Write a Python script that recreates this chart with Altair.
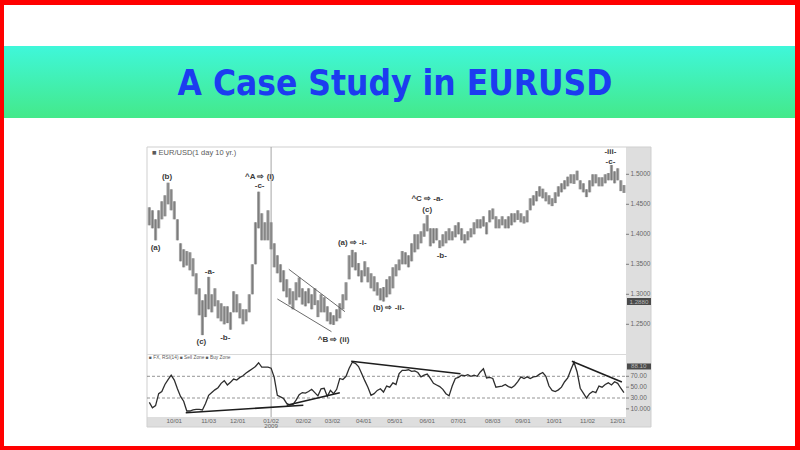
import altair as alt
import pandas as pd

# ---------------------------------------------------------------------------
# EUR/USD daily chart, Sep 2008 - Dec 2009, shown as 3-day high/low bars,
# with a 14-period RSI panel underneath and Elliott-wave annotations.
# ---------------------------------------------------------------------------
ORIGIN = pd.Timestamp("2008-10-01")
BAR_START = "2008-09-07"

HIGH = [1.445, 1.44, 1.425, 1.44, 1.455, 1.465, 1.486, 1.475, 1.455, 1.425,
        1.385, 1.375, 1.372, 1.37, 1.36, 1.335, 1.31, 1.29, 1.30, 1.329,
        1.30, 1.31, 1.29, 1.285, 1.28, 1.28, 1.27, 1.305, 1.30, 1.285,
        1.275, 1.275, 1.30, 1.35, 1.42, 1.471, 1.435, 1.42, 1.44, 1.42,
        1.385, 1.365, 1.35, 1.34, 1.325, 1.31, 1.305, 1.32, 1.328, 1.31,
        1.305, 1.31, 1.30, 1.31, 1.29, 1.30, 1.295, 1.28, 1.27, 1.265,
        1.275, 1.285, 1.30, 1.32, 1.365, 1.374, 1.37, 1.352, 1.34, 1.355,
        1.345, 1.335, 1.33, 1.32, 1.31, 1.312, 1.325, 1.33, 1.345, 1.35,
        1.358, 1.372, 1.37, 1.365, 1.385, 1.40, 1.40, 1.405, 1.418, 1.432,
        1.41, 1.41, 1.41, 1.39, 1.40, 1.405, 1.41, 1.405, 1.415, 1.42,
        1.41, 1.40, 1.405, 1.41, 1.42, 1.425, 1.425, 1.43, 1.42, 1.44,
        1.443, 1.43, 1.425, 1.43, 1.425, 1.43, 1.435, 1.435, 1.44, 1.435,
        1.43, 1.44, 1.46, 1.465, 1.472, 1.48, 1.476, 1.47, 1.465, 1.46,
        1.47, 1.48, 1.485, 1.49, 1.496, 1.50, 1.50, 1.506, 1.49, 1.485,
        1.475, 1.49, 1.50, 1.50, 1.495, 1.495, 1.50, 1.502, 1.5155, 1.505,
        1.51, 1.49, 1.482]

LOW = [1.415, 1.41, 1.39, 1.41, 1.425, 1.43, 1.45, 1.44, 1.425, 1.39,
       1.355, 1.345, 1.348, 1.34, 1.33, 1.30, 1.265, 1.232, 1.262, 1.275,
       1.27, 1.28, 1.26, 1.255, 1.25, 1.252, 1.241, 1.27, 1.27, 1.26,
       1.25, 1.255, 1.27, 1.30, 1.35, 1.41, 1.39, 1.39, 1.39, 1.375,
       1.345, 1.335, 1.32, 1.305, 1.295, 1.283, 1.275, 1.29, 1.295, 1.283,
       1.28, 1.285, 1.275, 1.282, 1.262, 1.27, 1.27, 1.255, 1.25, 1.249,
       1.255, 1.26, 1.275, 1.29, 1.325, 1.345, 1.34, 1.33, 1.32, 1.33,
       1.32, 1.31, 1.305, 1.298, 1.29, 1.288, 1.295, 1.30, 1.31, 1.33,
       1.34, 1.35, 1.35, 1.345, 1.355, 1.37, 1.375, 1.385, 1.396, 1.405,
       1.38, 1.385, 1.39, 1.377, 1.38, 1.385, 1.39, 1.39, 1.395, 1.40,
       1.39, 1.385, 1.39, 1.395, 1.40, 1.41, 1.41, 1.413, 1.40, 1.42,
       1.425, 1.41, 1.41, 1.415, 1.41, 1.41, 1.415, 1.42, 1.424, 1.42,
       1.418, 1.42, 1.44, 1.448, 1.455, 1.463, 1.46, 1.455, 1.45, 1.447,
       1.452, 1.463, 1.47, 1.475, 1.48, 1.485, 1.484, 1.49, 1.475, 1.47,
       1.462, 1.47, 1.48, 1.485, 1.48, 1.48, 1.485, 1.49, 1.49, 1.485,
       1.49, 1.472, 1.469]

RSI = [22, 12, 16, 38, 42, 55, 64, 72, 63, 47,
       33, 24, 6, 6, 8, 9, 9, 8, 20, 35,
       40, 45, 49, 57, 62, 54, 59, 65, 63, 68,
       71, 76, 80, 84, 88, 95, 87, 87, 87, 85,
       68, 35, 32, 29, 20, 17, 18, 26, 36, 40,
       39, 42, 46, 40, 34, 47, 48, 33, 44, 38,
       46, 66, 64, 70, 85, 96, 94, 88, 75, 62,
       50, 35, 38, 44, 47, 41, 52, 50, 58, 55,
       75, 81, 81, 82, 79, 80, 77, 69, 72, 74,
       66, 57, 54, 51, 46, 38, 34, 52, 66, 68,
       72, 71, 73, 70, 72, 70, 78, 84, 67, 68,
       66, 50, 51, 52, 55, 51, 49, 53, 60, 69,
       66, 69, 66, 69, 70, 74, 77, 70, 52, 44,
       42, 45, 50, 60, 67, 82, 96, 78, 48, 39,
       30, 38, 42, 40, 52, 50, 55, 58, 54, 60,
       57, 48, 40]

X_TICK_DATES = ["2008-10-01", "2008-11-03", "2008-12-01", "2009-01-02",
                "2009-02-02", "2009-03-02", "2009-04-01", "2009-05-01",
                "2009-06-01", "2009-07-01", "2009-08-03", "2009-09-01",
                "2009-10-01", "2009-11-02", "2009-12-01"]
X_TICK_TEXT = ["10/01", "11/03", "12/01", "01/02", "02/02", "03/02", "04/01",
               "05/01", "06/01", "07/01", "08/03", "09/01", "10/01", "11/02",
               "12/01"]
YEAR_MARK_DATE = "2009-01-02"
YEAR_MARK_TEXT = "2009"

PRICE_TICKS = [1.25, 1.30, 1.35, 1.40, 1.45, 1.50]
PRICE_TICK_TEXT = ["1.2500", "1.3000", "1.3500", "1.4000", "1.4500", "1.5000"]
RSI_TICKS = [70, 50, 30, 10]
RSI_TICK_TEXT = ["70.00", "50.00", "30.00", "10.000"]
RSI_ZONES = [70, 30]
LAST_PRICE, LAST_PRICE_TEXT = 1.2880, "1.2880"
LAST_RSI, LAST_RSI_TEXT = 88.10, "88.10"

WAVE_DATES = ["2008-09-24", "2008-09-13", "2008-11-04", "2008-10-27",
              "2008-11-19", "2008-12-22", "2008-12-22", "2009-03-21",
              "2009-04-25", "2009-03-03", "2009-06-01", "2009-06-01",
              "2009-06-15", "2009-11-24", "2009-11-24"]
WAVE_PRICES = [1.496, 1.377, 1.338, 1.221, 1.228, 1.4958, 1.4797, 1.385,
               1.277, 1.224, 1.459, 1.4405, 1.364, 1.5365, 1.5213]
WAVE_TEXT = ["(b)", "(a)", "-a-", "(c)", "-b-", "^A \u21e8 (i)", "-c-",
             "(a) \u21e8 -i-", "(b) \u21e8 -ii-", "^B \u21e8 (ii)",
             "^C \u21e8 -a-", "(c)", "-b-", "-iii-", "-c-"]

# falling channel drawn on price, two lines
CHANNEL_ID = ["up", "up", "dn", "dn"]
CHANNEL_DATES = ["2009-01-19", "2009-03-14", "2009-01-08", "2009-03-01"]
CHANNEL_PRICES = [1.3417, 1.271, 1.2922, 1.2377]

# RSI trendlines
RSI_LINE_ID = [1, 1, 2, 2, 3, 3, 4, 4]
RSI_LINE_DATES = ["2008-10-12", "2009-02-02", "2009-01-17", "2009-03-09",
                  "2009-03-20", "2009-07-03", "2009-10-18", "2009-12-05"]
RSI_LINE_VALUES = [2.9, 16.5, 16.5, 39.8, 97.6, 74.8, 97.6, 59.5]

TITLE = "A Case Study in EURUSD"
SYMBOL_TEXT = "\u25a0 EUR/USD(1 day 10 yr.)"
RSI_LEGEND_TEXT = "\u25a0 FX, RSI(14) \u25a0 Sell Zone \u25a0 Buy Zone"


def day(s):
    return (pd.Timestamp(s) - ORIGIN).days


# ---------------------------------------------------------------------------
# tables
# ---------------------------------------------------------------------------
bar_dates = pd.date_range(BAR_START, periods=len(HIGH), freq="3D")
bars = pd.DataFrame({"d": (bar_dates - ORIGIN).days, "hi": HIGH, "lo": LOW})
rsi = pd.DataFrame({"d": (bar_dates - ORIGIN).days, "r": RSI})
xticks = pd.DataFrame({"d": [day(s) for s in X_TICK_DATES], "t": X_TICK_TEXT})
year = pd.DataFrame({"d": [day(YEAR_MARK_DATE)], "t": [YEAR_MARK_TEXT]})
pticks = pd.DataFrame({"p": PRICE_TICKS, "t": PRICE_TICK_TEXT})
rticks = pd.DataFrame({"r": RSI_TICKS, "t": RSI_TICK_TEXT})
zones = pd.DataFrame({"r": RSI_ZONES})
last_p = pd.DataFrame({"p": [LAST_PRICE], "t": [LAST_PRICE_TEXT]})
last_r = pd.DataFrame({"r": [LAST_RSI], "t": [LAST_RSI_TEXT]})
waves = pd.DataFrame({"d": [day(s) for s in WAVE_DATES], "p": WAVE_PRICES,
                      "t": WAVE_TEXT})
channel = pd.DataFrame({"id": CHANNEL_ID,
                        "d": [day(s) for s in CHANNEL_DATES],
                        "p": CHANNEL_PRICES})
rsi_lines = pd.DataFrame({"id": RSI_LINE_ID,
                          "d": [day(s) for s in RSI_LINE_DATES],
                          "r": RSI_LINE_VALUES})
vmark = pd.DataFrame({"d": [day(YEAR_MARK_DATE)]})
one = pd.DataFrame({"k": [0]})

# ---------------------------------------------------------------------------
# scales (pixel ranges on the 800x450 canvas)
# ---------------------------------------------------------------------------
def xs(field="d"):
    return alt.X(field, type="quantitative", axis=None,
                 scale=alt.Scale(domain=[0, 426], range=[174.3, 617.7],
                                 zero=False, nice=False))


def ps(field="p"):
    return alt.Y(field, type="quantitative", axis=None,
                 scale=alt.Scale(domain=[1.25, 1.5], range=[324.3, 174.3],
                                 zero=False, nice=False))


def rs(field="r"):
    return alt.Y(field, type="quantitative", axis=None,
                 scale=alt.Scale(domain=[30, 70], range=[398.0, 376.3],
                                 zero=False, nice=False))


def box(x0, x1, y0, y1, **mark):
    return alt.Chart(one).mark_rect(**mark).encode(
        x=alt.value(x0), x2=alt.value(x1), y=alt.value(y0), y2=alt.value(y1))


def hline(x0, x1, y, **mark):
    return alt.Chart(one).mark_rule(**mark).encode(
        x=alt.value(x0), x2=alt.value(x1), y=alt.value(y))


AX_FONT = "Liberation Sans"
AX_COLOR = "#666666"

layers = []

# page: red frame, white slide, green title banner
layers.append(box(0, 800, 0, 450, fill="#ff0000"))
layers.append(box(4, 795, 5, 446, fill="#ffffff"))
layers.append(box(4, 795, 46, 118, fill=alt.Gradient(
    gradient="linear", x1=0, x2=0, y1=0, y2=1,
    stops=[alt.GradientStop(color="#3ff7da", offset=0),
           alt.GradientStop(color="#44e98a", offset=1)])))
layers.append(alt.Chart(one).mark_text(
    text=TITLE, font="DejaVu Sans Condensed, DejaVu Sans", fontSize=35,
    fontWeight="bold", color="#1c3cf0", align="center", baseline="middle"
).encode(x=alt.value(395), y=alt.value(84)))

# chart frame, axis strips, panel separator
layers.append(box(626, 651, 147, 427, fill="#dedede"))
layers.append(box(147, 651, 417, 427, fill="#dedede"))
layers.append(box(147, 651, 147, 427, fillOpacity=0, stroke="#cfcfcf",
                  strokeWidth=1))
layers.append(hline(147, 626, 354.5, color="#d9d9d9", strokeWidth=1))

# RSI zone lines
layers.append(alt.Chart(zones).mark_rule(
    color="#7a7a7a", strokeWidth=0.8, strokeDash=[3, 2]
).encode(y=rs(), x=alt.value(147), x2=alt.value(626)))

# year boundary marker
layers.append(alt.Chart(vmark).mark_rule(color="#9a9a9a", strokeWidth=0.9)
              .encode(x=xs(), y=alt.value(147), y2=alt.value(417)))

# price bars: light body with a darker core line
layers.append(alt.Chart(bars).mark_rule(color="#a3a3a3", strokeWidth=3.2)
              .encode(x=xs(), y=ps("lo"), y2=alt.Y2("hi")))
layers.append(alt.Chart(bars).mark_rule(color="#6e6e6e", strokeWidth=0.8)
              .encode(x=xs(), y=ps("lo"), y2=alt.Y2("hi")))

# falling channel
layers.append(alt.Chart(channel).mark_line(color="#5a5a5a", strokeWidth=0.9)
              .encode(x=xs(), y=ps(), detail="id:N"))

# RSI line and trendlines
layers.append(alt.Chart(rsi).mark_line(color="#2e2e2e", strokeWidth=1.3)
              .encode(x=xs(), y=rs()))
layers.append(alt.Chart(rsi_lines).mark_line(color="#1e1e1e", strokeWidth=1.6)
              .encode(x=xs(), y=rs(), detail="id:N"))

# wave labels
layers.append(alt.Chart(waves).mark_text(
    font=AX_FONT, fontSize=8, fontWeight="bold", color="#3a3a3a",
    align="center", baseline="middle"
).encode(x=xs(), y=ps(), text="t:N"))

# captions
layers.append(alt.Chart(one).mark_text(
    text=SYMBOL_TEXT, font=AX_FONT, fontSize=7.5, color="#5a5a5a",
    align="left", baseline="middle"
).encode(x=alt.value(152), y=alt.value(153)))
layers.append(alt.Chart(one).mark_text(
    text=RSI_LEGEND_TEXT, font=AX_FONT, fontSize=4.8, color="#5a5a5a",
    align="left", baseline="middle"
).encode(x=alt.value(149), y=alt.value(358)))

# right-hand price axis
layers.append(alt.Chart(pticks).mark_rule(color=AX_COLOR, strokeWidth=0.8)
              .encode(y=ps(), x=alt.value(626), x2=alt.value(629)))
layers.append(alt.Chart(pticks).mark_text(
    font=AX_FONT, fontSize=6.5, color=AX_COLOR, align="left",
    baseline="middle").encode(y=ps(), x=alt.value(630.5), text="t:N"))
layers.append(alt.Chart(last_p).mark_rule(color="#4a4a4a", strokeWidth=7,
                                          strokeCap="butt")
              .encode(y=ps(), x=alt.value(627), x2=alt.value(651)))
layers.append(alt.Chart(last_p).mark_text(
    font=AX_FONT, fontSize=6.2, color="#b8b8b8", align="left",
    baseline="middle").encode(y=ps(), x=alt.value(629.5), text="t:N"))

# right-hand RSI axis
layers.append(alt.Chart(rticks).mark_rule(color=AX_COLOR, strokeWidth=0.8)
              .encode(y=rs(), x=alt.value(626), x2=alt.value(629)))
layers.append(alt.Chart(rticks).mark_text(
    font=AX_FONT, fontSize=6.5, color=AX_COLOR, align="left",
    baseline="middle").encode(y=rs(), x=alt.value(630.5), text="t:N"))
layers.append(alt.Chart(last_r).mark_rule(color="#4a4a4a", strokeWidth=6,
                                          strokeCap="butt")
              .encode(y=rs(), x=alt.value(627), x2=alt.value(651)))
layers.append(alt.Chart(last_r).mark_text(
    font=AX_FONT, fontSize=6.2, color="#b8b8b8", align="left",
    baseline="middle").encode(y=rs(), x=alt.value(631), text="t:N"))

# date axis
layers.append(alt.Chart(xticks).mark_text(
    font=AX_FONT, fontSize=6.2, color=AX_COLOR, align="center",
    baseline="middle").encode(x=xs(), y=alt.value(420.5), text="t:N"))
layers.append(alt.Chart(year).mark_text(
    font=AX_FONT, fontSize=6.2, color=AX_COLOR, align="center",
    baseline="middle").encode(x=xs(), y=alt.value(426), text="t:N"))

chart = (
    alt.layer(*layers)
    .resolve_scale(x="independent", y="independent")
    .properties(width=800, height=450, padding=0, autosize="none",
                background="#ffffff")
    .configure_view(stroke="transparent")
)

chart.save("out.html", embed_options={"renderer": "svg", "actions": False})
